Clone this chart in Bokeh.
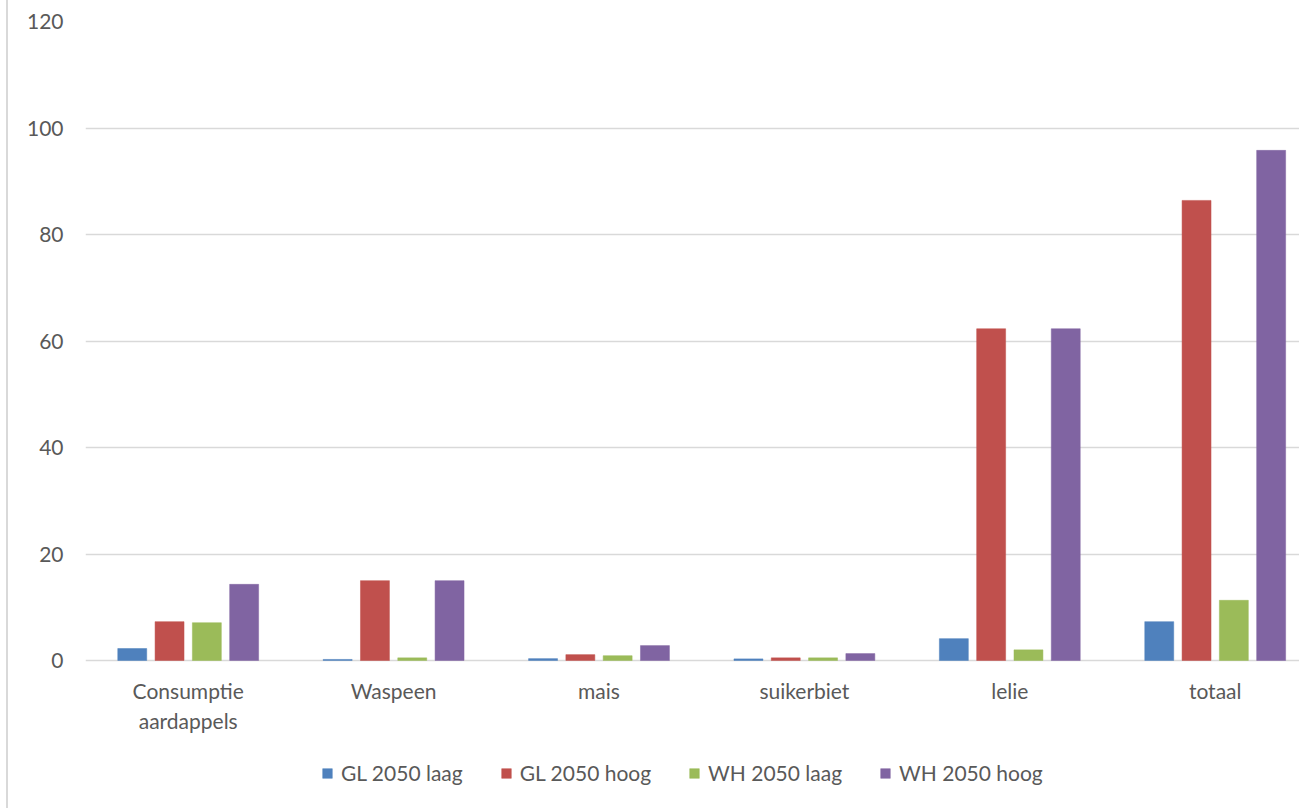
import numpy as np
from bokeh.plotting import figure
from bokeh.models import ColumnDataSource, Legend, LegendItem, FixedTicker
from bokeh.core.properties import value
from bokeh.embed import file_html
from bokeh.resources import INLINE

categories = ["Consumptie\naardappels", "Waspeen", "mais", "suikerbiet", "lelie", "totaal"]
series_names = ["GL 2050 laag", "GL 2050 hoog", "WH 2050 laag", "WH 2050 hoog"]
gl_laag = [2.25, 0.2, 0.35, 0.3, 4.1, 7.3]
gl_hoog = [7.3, 15.0, 1.1, 0.5, 62.3, 86.4]
wh_laag = [7.1, 0.5, 0.9, 0.5, 2.0, 11.3]
wh_hoog = [14.3, 15.0, 2.8, 1.3, 62.3, 95.8]
y_ticks = [0, 20, 40, 60, 80, 100, 120]
colors = ["#4F81BD", "#C0504D", "#9BBB59", "#8064A2"]

FONT = "Lato"
TXT = "#595959"
FS = "21px"

# frame: value 120 at y=21px, value 0 at y=660px, frame bottom at 808px
px_per_unit = (660 - 21) / 120.0
y_min = -(808 - 660) / px_per_unit
# one category is ~205.4px wide; the frame (85..1301px) shows slightly less than 6 categories
cat_px = 205.4
x_max = (1301 - 85) / cat_px

centers = np.arange(len(categories)) + 0.5
series = [gl_laag, gl_hoog, wh_laag, wh_hoog]

p = figure(x_range=(0, x_max), y_range=(y_min, 120),
           width=1293, height=808, output_backend="svg", toolbar_location=None,
           min_border_left=77, min_border_right=0, min_border_top=21, min_border_bottom=0,
           margin=(0, 0, 0, 6))
p.styles = {"border-left": "2px solid #D9D9D9"}
p.outline_line_color = None
p.background_fill_color = "white"
p.border_fill_color = "white"

step = 0.1816
width = 0.141
renderers = []
for i, vals in enumerate(series):
    src = ColumnDataSource(dict(x=centers + (i - 1.5) * step, top=vals))
    r = p.vbar(x="x", top="top", width=width, source=src,
               fill_color=colors[i], line_color=colors[i], line_width=0.5)
    renderers.append(r)

p.xgrid.grid_line_color = None
p.ygrid.grid_line_color = "#D9D9D9"
p.ygrid.grid_line_width = 1.5
p.yaxis.ticker = FixedTicker(ticks=y_ticks)

p.yaxis.axis_line_color = None
p.yaxis.major_tick_line_color = None
p.yaxis.minor_tick_line_color = None
p.yaxis.major_label_standoff = 16
p.yaxis.major_label_text_font = FONT
p.yaxis.major_label_text_font_size = FS
p.yaxis.major_label_text_color = TXT

p.xaxis.visible = False

# category labels drawn as text under the zero line
line1 = [c.split("\n")[0] for c in categories]
line2 = [c.split("\n")[1] if "\n" in c else "" for c in categories]
lsrc = ColumnDataSource(dict(x=centers, l1=line1, l2=line2,
                             y1=[-30 / px_per_unit] * len(categories),
                             y2=[-60 / px_per_unit] * len(categories)))
p.text(x="x", y="y1", text="l1", source=lsrc, text_align="center", text_baseline="middle",
       text_font=value(FONT), text_font_size=FS, text_color=TXT)
p.text(x="x", y="y2", text="l2", source=lsrc, text_align="center", text_baseline="middle",
       text_font=value(FONT), text_font_size=FS, text_color=TXT)

legend = Legend(items=[LegendItem(label=n, renderers=[r]) for n, r in zip(series_names, renderers)],
                orientation="horizontal", location=(236, 23))
legend.label_text_font = FONT
legend.label_text_font_size = FS
legend.label_text_color = TXT
legend.glyph_width = 12
legend.glyph_height = 12
legend.label_standoff = 8
legend.spacing = 37
legend.border_line_color = None
legend.background_fill_alpha = 0
legend.margin = 0
legend.padding = 5
p.add_layout(legend, "center")

open("out.html", "w").write(file_html(p, INLINE))
